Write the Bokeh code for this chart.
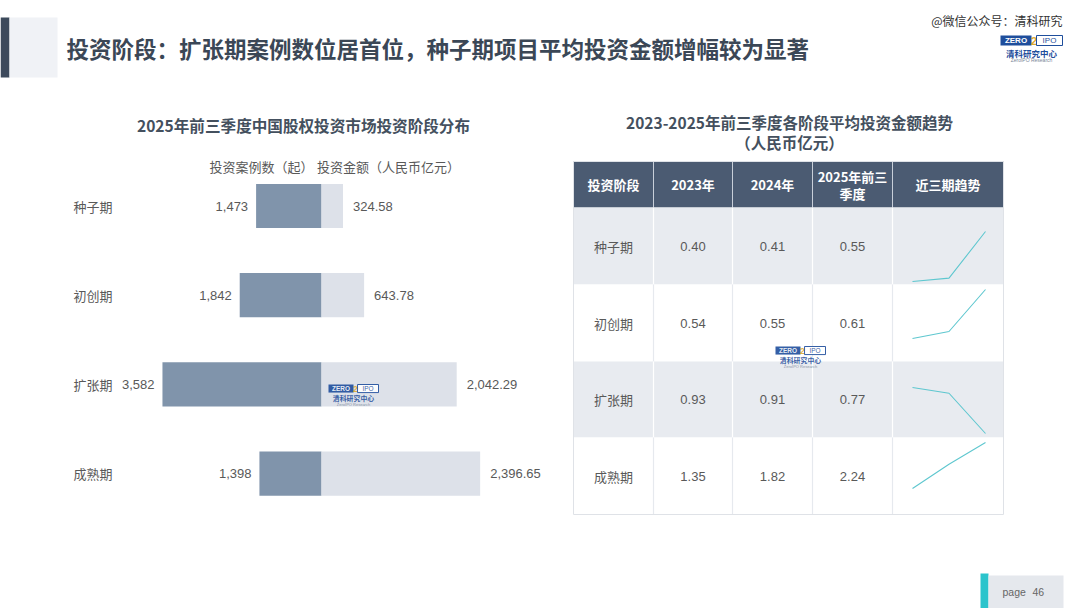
from bokeh.plotting import figure
from bokeh.models import Range1d, ColumnDataSource
from bokeh.core.properties import value
from bokeh.embed import file_html
from bokeh.resources import INLINE

# ---------------- data ----------------
stages = ["种子期", "初创期", "扩张期", "成熟期"]
cases = [1473, 1842, 3582, 1398]
amounts = [324.58, 643.78, 2042.29, 2396.65]
table_headers = ["投资阶段", "2023年", "2024年", "2025年前三季度", "近三期趋势"]
avg_2023 = [0.40, 0.54, 0.93, 1.35]
avg_2024 = [0.41, 0.55, 0.91, 1.82]
avg_2025 = [0.55, 0.61, 0.77, 2.24]
periods = [0, 1, 2]

title_main = "投资阶段：扩张期案例数位居首位，种子期项目平均投资金额增幅较为显著"
title_left = "2025年前三季度中国股权投资市场投资阶段分布"
title_right_1 = "2023-2025年前三季度各阶段平均投资金额趋势"
title_right_2 = "（人民币亿元）"
legend_cases = "投资案例数（起）"
legend_amount = "投资金额（人民币亿元）"

# ---------------- layout helpers ----------------
W, H = 1080, 608
CJK = "Noto Sans CJK SC"
LAT = "Liberation Sans"


def X(px):
    return px


def Y(py):
    return py


p = figure(width=W, height=H, x_range=Range1d(0, W), y_range=Range1d(H, 0),
           output_backend="svg", toolbar_location=None, min_border=0,
           x_axis_type=None, y_axis_type=None)
p.grid.visible = False
p.outline_line_color = None
p.background_fill_color = "white"
p.border_fill_color = "white"


def txt(x, y, s, size, color, align="left", bold=False, font=CJK, alpha=1.0):
    p.text(x=[x], y=[y], text=[s], text_font=value(font),
           text_font_size=value(f"{size:.1f}px"), text_color=color,
           text_align=align, text_baseline="middle",
           text_font_style="bold" if bold else "normal", text_alpha=alpha)


def box(x0, x1, y0, y1, fill, line=None, alpha=1.0):
    p.quad(left=[X(x0)], right=[X(x1)], top=[Y(y0)], bottom=[Y(y1)],
           fill_color=fill, fill_alpha=alpha, line_color=line,
           line_alpha=alpha if line else 0)


def logo(x0, y0, w, alpha=1.0):
    s = w / 62.0
    box(x0, x0 + 31 * s, y0, y0 + 10 * s, "#1f4e9c", alpha=alpha)
    txt(X(x0 + 15.5 * s), Y(y0 + 5.2 * s), "ZERO", 8 * s, "white", "center", True, LAT, alpha)
    txt(X(x0 + 33.5 * s), Y(y0 + 5 * s), "2", 11 * s, "#e0a82e", "center", True, LAT, alpha)
    box(x0 + 36 * s, x0 + 62 * s, y0, y0 + 10 * s, "white", "#1f4e9c", alpha=alpha)
    txt(X(x0 + 49 * s), Y(y0 + 5.2 * s), "IPO", 8 * s, "#1f4e9c", "center", False, LAT, alpha)
    txt(X(x0 + 31 * s), Y(y0 + 17 * s), "清科研究中心", 8.5 * s, "#1f4e9c", "center", True, CJK, alpha)
    txt(X(x0 + 31 * s), Y(y0 + 24.5 * s), "ZeroIPO Research", 5 * s, "#7a8699", "center", False, LAT, alpha)


# ---------------- page header ----------------
box(0, 9, 17, 77, "#3d4a5c")
box(9, 57, 17, 77, "#f0f2f6")
txt(X(66), Y(47), title_main, 22.5, "#3b4756", bold=True)
txt(X(1062), Y(20), "@微信公众号：清科研究", 12, "#333333", "right")
logo(1000, 35, 62)

# ---------------- left chart: diverging bars ----------------
k_cases = 0.0444   # px per case
k_amt = 0.0662     # px per 亿元
zero_x = X(321)
row0_y, row_step = Y(205.5), 89.2
p.extra_x_ranges = {
    "cases": Range1d(-zero_x / k_cases, (W - zero_x) / k_cases),
    "amt": Range1d(-zero_x / k_amt, (W - zero_x) / k_amt),
    "spark": Range1d(-X(912) / 36.5, (W - X(912)) / 36.5),
}
p.extra_y_ranges = {"rows": Range1d((H - row0_y) / row_step, -row0_y / row_step)}

src = ColumnDataSource(dict(
    idx=list(range(len(stages))),
    stage=stages,
    neg_cases=[-c for c in cases],
    amounts=amounts,
    case_lbl=[f"{c:,}" for c in cases],
    amt_lbl=[f"{a:,.2f}" for a in amounts],
))

p.hbar(y="idx", left="neg_cases", right=0, height=0.495, source=src,
       fill_color="#8094ab", line_color=None,
       x_range_name="cases", y_range_name="rows")
p.hbar(y="idx", left=0, right="amounts", height=0.495, source=src,
       fill_color="#dde1e9", line_color=None,
       x_range_name="amt", y_range_name="rows")
p.text(x="neg_cases", y="idx", text="case_lbl", source=src, x_offset=-8,
       text_align="right", text_baseline="middle", text_font=value(LAT),
       text_font_size=value("13px"), text_color="#595959",
       x_range_name="cases", y_range_name="rows")
p.text(x="amounts", y="idx", text="amt_lbl", source=src, x_offset=10,
       text_align="left", text_baseline="middle", text_font=value(LAT),
       text_font_size=value("13px"), text_color="#595959",
       x_range_name="amt", y_range_name="rows")
p.text(x=X(73), y="idx", text="stage", source=src,
       text_align="left", text_baseline="middle", text_font=value(CJK),
       text_font_size=value("13px"), text_color="#595959",
       y_range_name="rows")

txt(X(303), Y(124), title_left, 15.6, "#44505e", "center", True)
txt(X(261), Y(166), legend_cases, 13, "#595959", "center")
txt(X(388), Y(166), legend_amount, 13, "#595959", "center")
logo(328, 384, 50, alpha=0.9)

# ---------------- right: table ----------------
txt(X(789), Y(121), title_right_1, 15.5, "#44505e", "center", True)
txt(X(789), Y(141), title_right_2, 15.5, "#44505e", "center", True)

col_edges = [573, 653, 732, 812, 892, 1003]
row_edges = [161, 207, 284, 361, 437, 514]
box(col_edges[0], col_edges[-1], row_edges[0], row_edges[1], "#4b5b72")
for r in range(4):
    fill = "#e8ebf0" if r % 2 == 0 else "white"
    box(col_edges[0], col_edges[-1], row_edges[r + 1], row_edges[r + 2], fill)
# grid lines
for c in col_edges[1:-1]:
    p.segment(x0=[X(c)], y0=[Y(row_edges[0])], x1=[X(c)], y1=[Y(row_edges[1])],
              line_color="#c8cfd9", line_width=1)
    for r in range(4):
        col = "white" if r % 2 == 0 else "#e6e9ee"
        p.segment(x0=[X(c)], y0=[Y(row_edges[r + 1])], x1=[X(c)], y1=[Y(row_edges[r + 2])],
                  line_color=col, line_width=1.2)
p.quad(left=[X(col_edges[0])], right=[X(col_edges[-1])], top=[Y(row_edges[0])],
       bottom=[Y(row_edges[-1])], fill_color=None, line_color="#dfe2e7", line_width=1)

hdr_y = Y((row_edges[0] + row_edges[1]) / 2)
col_c = [X((col_edges[i] + col_edges[i + 1]) / 2) for i in range(5)]
for i, h in enumerate(table_headers):
    if i == 3:
        txt(col_c[i], hdr_y - 8.5, h[:7], 13, "white", "center", True)
        txt(col_c[i], hdr_y + 9, h[7:], 13, "white", "center", True)
    else:
        txt(col_c[i], hdr_y, h, 13, "white", "center", True)

row_c = [Y((row_edges[r + 1] + row_edges[r + 2]) / 2) for r in range(4)]
tsrc = ColumnDataSource(dict(
    y=row_c, stage=stages,
    v23=[f"{v:.2f}" for v in avg_2023],
    v24=[f"{v:.2f}" for v in avg_2024],
    v25=[f"{v:.2f}" for v in avg_2025],
))
for ci, key, font in [(0, "stage", CJK), (1, "v23", LAT), (2, "v24", LAT), (3, "v25", LAT)]:
    p.text(x=col_c[ci], y="y", text=key, source=tsrc, text_align="center",
           text_baseline="middle", text_font=value(font),
           text_font_size=value("13px"), text_color="#595959")

# sparklines: each row mapped into its own vertical band
spark_band = [(231, 281), (289, 338), (387, 433), (442, 488)]  # page y of max / min
for r in range(4):
    vals = [avg_2023[r], avg_2024[r], avg_2025[r]]
    vmin, vmax = min(vals), max(vals)
    y_top_pg, y_bot_pg = spark_band[r]
    k = (vmax - vmin) / (y_bot_pg - y_top_pg)
    v_bottom = vmin - (H - Y(y_bot_pg)) * k
    v_top = vmin + Y(y_bot_pg) * k
    p.extra_y_ranges[f"sp{r}"] = Range1d(v_bottom, v_top)
    p.line(x=periods, y=vals, line_color="#5ec7cf", line_width=1.1,
           x_range_name="spark", y_range_name=f"sp{r}")

logo(775, 346, 50, alpha=0.9)

# ---------------- footer ----------------
box(980, 988, 573, 608, "#2bc4cc")
box(988, 1063, 575, 608, "#e5e8ed")
txt(X(1002), Y(591), "page", 10.5, "#666666", "left", False, LAT)
txt(X(1032), Y(591), "46", 10.5, "#666666", "left", False, LAT)

open("out.html", "w").write(file_html(p, INLINE))
